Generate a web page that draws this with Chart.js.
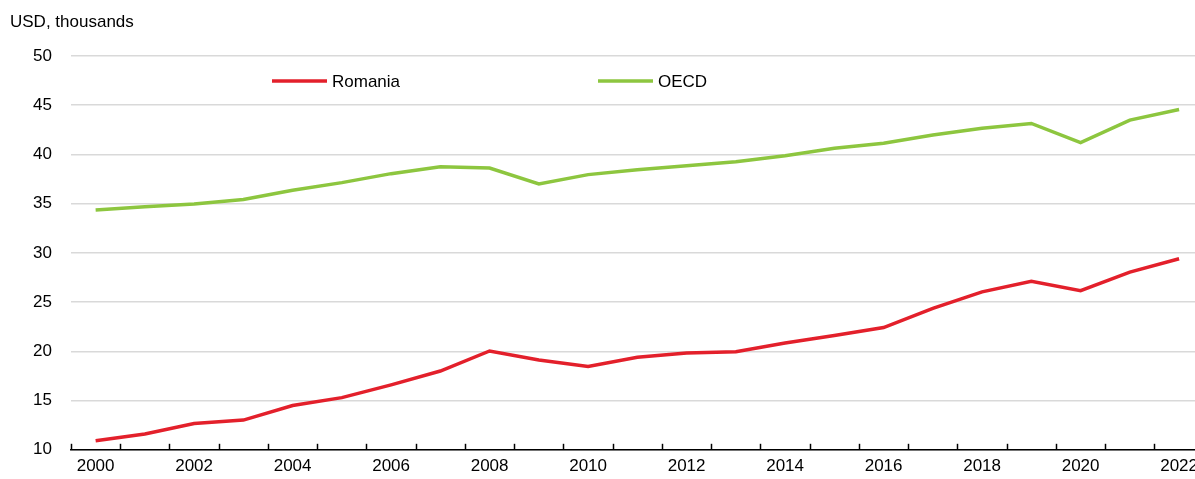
<!DOCTYPE html>
<html>
<head>
<meta charset="utf-8">
<script src="https://cdn.jsdelivr.net/npm/chart.js@4/dist/chart.umd.min.js"></script>
<style>
html, body { margin: 0; padding: 0; overflow: hidden; background: #fff; }
#wrap { width: 1204px; height: 479px; }
</style>
</head>
<body>
<div id="wrap"><canvas id="c" width="1204" height="479"></canvas></div>
<script>
const years = ['2000','2001','2002','2003','2004','2005','2006','2007','2008','2009','2010','2011','2012','2013','2014','2015','2016','2017','2018','2019','2020','2021','2022'];
const romania = [10.93, 11.61, 12.68, 13.02, 14.5, 15.3, 16.6, 18.0, 20.04, 19.13, 18.46, 19.4, 19.83, 19.97, 20.84, 21.61, 22.42, 24.36, 26.04, 27.11, 26.17, 28.05, 29.4];
const oecd = [34.35, 34.69, 34.96, 35.43, 36.37, 37.14, 38.05, 38.76, 38.62, 37.01, 37.95, 38.45, 38.86, 39.26, 39.87, 40.64, 41.14, 41.98, 42.65, 43.15, 41.21, 43.49, 44.56];
const seriesNames = ['Romania', 'OECD'];
const yTitle = 'USD, thousands';

// Prefer a narrow sans if installed, else regular sans at smaller size
function hasFont(name) {
  const c = document.createElement('canvas').getContext('2d');
  c.font = '40px monospace';
  const base = c.measureText('USD, thousands 2000').width;
  c.font = "40px '" + name + "', monospace";
  return Math.abs(c.measureText('USD, thousands 2000').width - base) > 0.5;
}
const NARROW = hasFont('Liberation Sans Narrow');
const FONT = NARROW ? "'Liberation Sans Narrow', sans-serif" : "'Liberation Sans', Arial, sans-serif";
const FSIZE = NARROW ? 20 : 17;
const RED = '#E3202B';
const GREEN = '#8DC63F';

const extras = {
  id: 'extras',
  afterDraw(chart) {
    const ctx = chart.ctx;
    const xs = chart.scales.x;
    const bottom = chart.chartArea.bottom;
    ctx.save();
    const n = years.length;
    const half = (xs.getPixelForValue(1) - xs.getPixelForValue(0)) / 2;
    ctx.strokeStyle = '#000';
    ctx.lineWidth = 1.5;
    for (let i = 0; i <= n; i++) {
      const x = i < n ? xs.getPixelForValue(i) - half : xs.getPixelForValue(n - 1) + half;
      ctx.beginPath();
      ctx.moveTo(Math.round(x) + 0.5, bottom);
      ctx.lineTo(Math.round(x) + 0.5, bottom - 6);
      ctx.stroke();
    }
    ctx.fillStyle = '#000';
    ctx.font = FSIZE + 'px ' + FONT;
    ctx.textBaseline = 'middle';
    ctx.textAlign = 'left';
    ctx.fillText(yTitle, 10, 22);
    const items = [
      { label: chart.data.datasets[0].label, color: chart.data.datasets[0].borderColor, x: 272 },
      { label: chart.data.datasets[1].label, color: chart.data.datasets[1].borderColor, x: 598 }
    ];
    items.forEach(it => {
      ctx.strokeStyle = it.color;
      ctx.lineWidth = 3.5;
      ctx.beginPath();
      ctx.moveTo(it.x, 81);
      ctx.lineTo(it.x + 55, 81);
      ctx.stroke();
      ctx.fillStyle = '#000';
      ctx.fillText(it.label, it.x + 60, 82);
    });
    ctx.restore();
  }
};

new Chart(document.getElementById('c'), {
  type: 'line',
  data: {
    labels: years,
    datasets: [
      { label: seriesNames[0], data: romania, borderColor: RED, backgroundColor: RED, borderWidth: 3.5, pointRadius: 0, tension: 0, fill: false },
      { label: seriesNames[1], data: oecd, borderColor: GREEN, backgroundColor: GREEN, borderWidth: 3.5, pointRadius: 0, tension: 0, fill: false }
    ]
  },
  options: {
    responsive: false,
    animation: false,
    devicePixelRatio: 1,
    layout: { padding: { top: 56, left: 0, right: 0, bottom: 0 } },
    plugins: { legend: { display: false }, tooltip: { enabled: false } },
    scales: {
      x: {
        type: 'category',
        offset: true,
        grid: { display: true, drawOnChartArea: false, drawTicks: false },
        border: { display: true, color: '#000', width: 1.5 },
        ticks: {
          autoSkip: false,
          maxRotation: 0,
          padding: 6,
          color: '#000',
          font: { family: FONT, size: FSIZE },
          callback: function(v, i) { return i % 2 === 0 ? years[i] : ''; }
        },
        afterFit(scale) { scale.height = 27; }
      },
      y: {
        min: 10,
        max: 50,
        ticks: { stepSize: 5, padding: 19, color: '#000', font: { family: FONT, size: FSIZE } },
        grid: { color: '#d9d9d9', lineWidth: 1.5, drawTicks: false },
        border: { display: false },
        afterFit(scale) { scale.width = 71; }
      }
    }
  },
  plugins: [extras]
});
</script>
</body>
</html>
